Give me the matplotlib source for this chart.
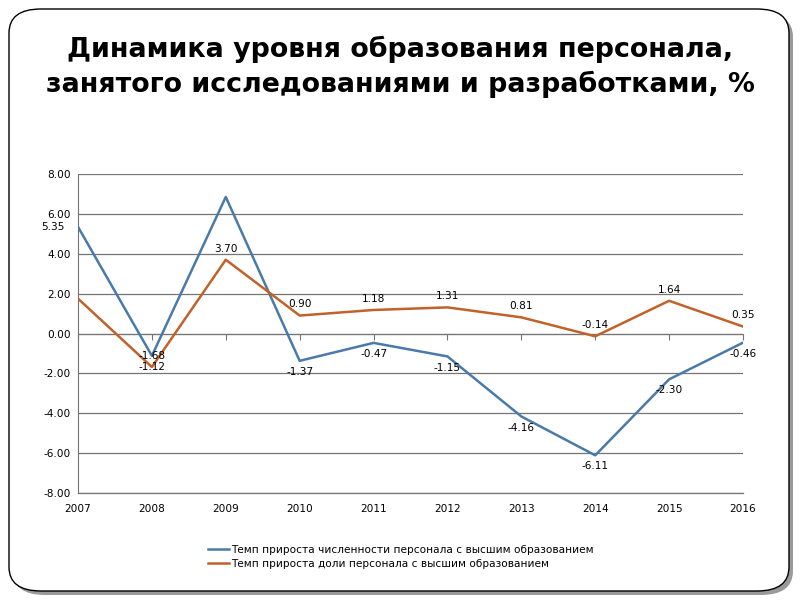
import matplotlib
matplotlib.use("Agg")
import matplotlib.pyplot as plt
from matplotlib.patches import FancyBboxPatch
from matplotlib.lines import Line2D
import matplotlib.transforms as mtransforms

plt.rcParams['font.family'] = ['DejaVu Sans']

years = [2007, 2008, 2009, 2010, 2011, 2012, 2013, 2014, 2015, 2016]
headcount = [5.35, -1.12, 6.85, -1.37, -0.47, -1.15, -4.16, -6.11, -2.30, -0.46]
share = [1.75, -1.68, 3.70, 0.90, 1.18, 1.31, 0.81, -0.14, 1.64, 0.35]
headcount_labels = ["5.35", "-1.68", None, "-1.37", "-0.47", "-1.15", "-4.16", "-6.11", "-2.30", "-0.46"]
share_labels = [None, "-1.12", "3.70", "0.90", "1.18", "1.31", "0.81", "-0.14", "1.64", "0.35"]
series_names = ["Темп прироста численности персонала с высшим образованием",
                "Темп прироста доли персонала с высшим образованием"]
yticks = [-8, -6, -4, -2, 0, 2, 4, 6, 8]
title = "Динамика уровня образования персонала,\nзанятого исследованиями и разработками, %"

blue = "#4A7AAA"
orange = "#C0622A"
grid_c = "#747474"
FS = 7.6

fig = plt.figure(figsize=(8, 6), dpi=100)

# slide frame with shadow
shadow = FancyBboxPatch((13/800, 5/600), 780/800, 582/600,
                        boxstyle="round,pad=0,rounding_size=0.04",
                        transform=fig.transFigure, facecolor="#9a9a9a",
                        edgecolor="none", zorder=-3)
frame = FancyBboxPatch((9/800, 9/600), 780/800, 582/600,
                       boxstyle="round,pad=0,rounding_size=0.04",
                       transform=fig.transFigure, facecolor="white",
                       edgecolor="black", linewidth=1.0, zorder=-2)
fig.patches.extend([shadow, frame])

fig.text(0.5, 1 - 67/600, title, ha="center", va="center", fontsize=19.4,
         fontweight="bold", linespacing=1.33)

ax = fig.add_axes([78/800, 107/600, 665/800, 319/600])
ax.set_facecolor("none")
ax.plot(years, headcount, color=blue, lw=1.8, zorder=3)
ax.plot(years, share, color=orange, lw=1.8, zorder=3)

ax.set_xlim(2007, 2016)
ax.set_ylim(-8, 8)
ax.set_yticks(yticks)
ax.set_yticklabels([f"{v:.2f}" for v in yticks], fontsize=FS)
ax.grid(axis="y", color=grid_c, lw=0.9)
ax.axhline(-8, color=grid_c, lw=0.9, clip_on=False, zorder=0.5)
ax.set_axisbelow(True)
for s in ["top", "right"]:
    ax.spines[s].set_visible(False)
ax.spines["left"].set_color(grid_c)
ax.spines["bottom"].set_position(("data", 0))
ax.spines["bottom"].set_color(grid_c)
ax.set_xticks(years)
ax.tick_params(axis="x", length=4, color=grid_c, labelbottom=False)
ax.tick_params(axis="y", length=0, pad=5)

trans = mtransforms.blended_transform_factory(ax.transData, ax.transAxes)
for yr in years:
    ax.text(yr, -0.05, str(yr), transform=trans, ha="center", va="center", fontsize=FS)

for x, y, lab in zip(years, headcount, headcount_labels):
    if lab is None:
        continue
    if x == 2007:
        ax.annotate(lab, (x, y), xytext=(-10, 0), textcoords="offset points",
                    ha="right", va="center", fontsize=FS)
    elif x == 2008:
        ax.annotate(lab, (x, y), xytext=(0, 0), textcoords="offset points",
                    ha="center", va="center", fontsize=FS)
    else:
        ax.annotate(lab, (x, y), xytext=(0, -8), textcoords="offset points",
                    ha="center", va="center", fontsize=FS)
for x, y, lab in zip(years, share, share_labels):
    if lab is None:
        continue
    if x == 2008:
        ax.annotate(lab, (x, y), xytext=(0, 0), textcoords="offset points",
                    ha="center", va="center", fontsize=FS)
    else:
        ax.annotate(lab, (x, y), xytext=(0, 8), textcoords="offset points",
                    ha="center", va="center", fontsize=FS)

handles = [Line2D([0], [0], color=blue, lw=1.8), Line2D([0], [0], color=orange, lw=1.8)]
fig.legend(handles, series_names, loc="center left", bbox_to_anchor=(198/800, 1 - 557/600),
           frameon=False, fontsize=7.6, handlelength=2.0, handletextpad=0.2, labelspacing=0.4)

fig.savefig("out.png", dpi=100)
